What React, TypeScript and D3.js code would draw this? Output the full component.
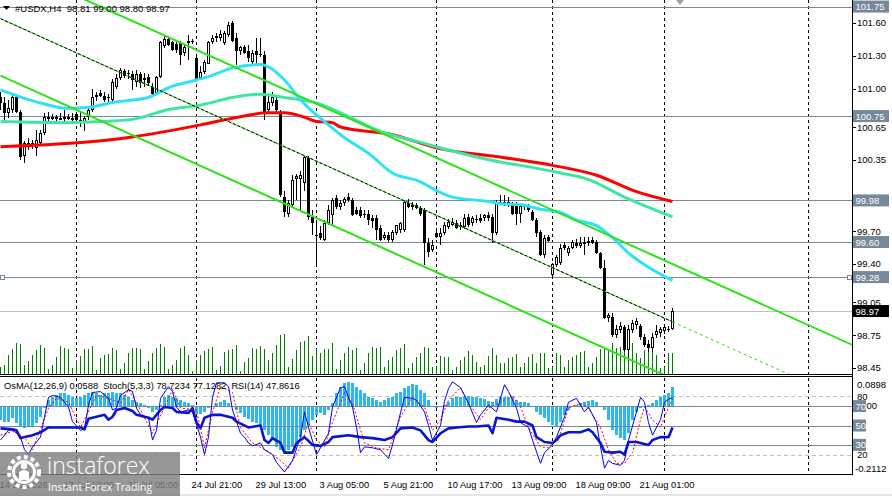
import React, { useEffect, useRef } from 'react';
import * as d3 from 'd3';

const W = 892;
const H = 496;
const PLOT_RIGHT = 852;
const MAIN_BOTTOM = 374;
const OSC_TOP = 377;
const OSC_BOTTOM = 474;
const FONT = "'Liberation Sans', Arial, sans-serif";

// #USDX H4 candles, bar 0 = 14 Jul 2026
const opens = [
  100.92, 100.87, 100.78, 100.81, 100.92, 100.79, 100.39, 100.50, 100.48, 100.46,
  100.50, 100.60, 100.74, 100.72, 100.74, 100.72, 100.73, 100.74, 100.72, 100.77,
  100.71, 100.70, 100.74, 100.81, 100.92, 100.96, 100.93, 100.92, 100.90, 101.02,
  101.10, 101.16, 101.14, 101.13, 101.06, 101.13, 101.10, 101.11, 101.02, 100.96,
  101.11, 101.39, 101.45, 101.43, 101.41, 101.42, 101.33, 101.42, 101.44, 101.28,
  101.10, 101.15, 101.23, 101.43, 101.46, 101.46, 101.42, 101.49, 101.60, 101.46,
  101.34, 101.38, 101.34, 101.24, 101.34, 101.32, 101.31, 100.81, 100.87, 100.90,
  100.78, 100.01, 99.86, 99.94, 100.18, 100.18, 100.14, 100.37, 99.83, 99.66,
  99.68, 99.62, 99.77, 99.85, 100.00, 99.92, 99.96, 100.01, 99.98, 99.89,
  99.89, 99.86, 99.86, 99.82, 99.82, 99.73, 99.64, 99.66, 99.62, 99.68,
  99.71, 99.71, 99.96, 99.94, 99.94, 99.91, 99.89, 99.59, 99.53, 99.68,
  99.65, 99.68, 99.74, 99.76, 99.77, 99.74, 99.74, 99.83, 99.77, 99.81,
  99.82, 99.82, 99.85, 99.83, 99.68, 99.97, 99.96, 99.97, 99.94, 99.93,
  99.86, 99.93, 99.92, 99.87, 99.80, 99.69, 99.48, 99.65, 99.30, 99.39,
  99.41, 99.57, 99.50, 99.55, 99.59, 99.56, 99.59, 99.60, 99.62, 99.60,
  99.50, 99.36, 98.91, 98.92, 98.75, 98.80, 98.82, 98.61, 98.80, 98.84,
  98.83, 98.73, 98.67, 98.63, 98.75, 98.77, 98.79, 98.81, 98.81,
];
const highs = [
  100.97, 100.92, 100.90, 100.94, 100.95, 100.81, 100.52, 100.55, 100.53, 100.62,
  100.62, 100.78, 100.79, 100.77, 100.76, 100.78, 100.81, 100.77, 100.78, 100.79,
  100.79, 100.75, 100.82, 101.00, 100.97, 100.99, 100.97, 100.95, 101.09, 101.13,
  101.19, 101.18, 101.17, 101.16, 101.17, 101.15, 101.14, 101.13, 101.05, 101.12,
  101.44, 101.49, 101.48, 101.44, 101.43, 101.44, 101.41, 101.49, 101.45, 101.29,
  101.21, 101.26, 101.44, 101.49, 101.51, 101.54, 101.53, 101.61, 101.62, 101.51,
  101.39, 101.40, 101.40, 101.35, 101.46, 101.46, 101.34, 100.94, 100.97, 100.93,
  100.81, 100.07, 99.98, 100.21, 100.22, 100.25, 100.39, 100.39, 99.89, 99.80,
  99.75, 99.80, 99.94, 100.00, 100.03, 99.98, 100.01, 100.05, 100.00, 99.92,
  99.92, 99.89, 99.89, 99.85, 99.85, 99.76, 99.69, 99.69, 99.71, 99.76,
  99.78, 99.98, 99.99, 99.97, 99.96, 99.93, 99.91, 99.64, 99.62, 99.71,
  99.73, 99.78, 99.81, 99.82, 99.80, 99.78, 99.86, 99.86, 99.84, 99.85,
  99.86, 99.86, 99.87, 99.86, 99.98, 100.03, 100.03, 100.01, 99.97, 99.97,
  99.94, 99.95, 99.95, 99.89, 99.82, 99.71, 99.66, 99.66, 99.41, 99.48,
  99.58, 99.60, 99.56, 99.62, 99.63, 99.65, 99.65, 99.65, 99.65, 99.62,
  99.51, 99.44, 98.95, 98.95, 98.84, 98.87, 98.84, 98.84, 98.89, 98.91,
  98.85, 98.76, 98.71, 98.77, 98.84, 98.82, 98.84, 98.83, 99.00,
];
const lows = [
  100.81, 100.71, 100.73, 100.78, 100.78, 100.35, 100.32, 100.44, 100.45, 100.39,
  100.49, 100.58, 100.69, 100.71, 100.70, 100.71, 100.68, 100.71, 100.70, 100.70,
  100.65, 100.61, 100.71, 100.79, 100.89, 100.92, 100.88, 100.88, 100.88, 101.00,
  101.08, 101.10, 101.09, 100.99, 101.02, 101.01, 101.02, 101.03, 100.93, 100.94,
  101.10, 101.37, 101.39, 101.34, 101.33, 101.22, 101.30, 101.26, 101.41, 101.08,
  101.08, 101.13, 101.23, 101.41, 101.43, 101.44, 101.40, 101.47, 101.43, 101.22,
  101.31, 101.32, 101.24, 101.21, 101.23, 101.29, 100.71, 100.79, 100.84, 100.79,
  100.01, 99.83, 99.83, 99.91, 99.98, 99.89, 100.07, 99.80, 99.66, 99.37,
  99.62, 99.61, 99.76, 99.76, 99.90, 99.89, 99.93, 99.97, 99.84, 99.85,
  99.82, 99.82, 99.76, 99.73, 99.62, 99.61, 99.62, 99.60, 99.60, 99.66,
  99.68, 99.69, 99.91, 99.89, 99.90, 99.84, 99.39, 99.46, 99.51, 99.64,
  99.57, 99.66, 99.72, 99.75, 99.72, 99.71, 99.72, 99.74, 99.75, 99.77,
  99.77, 99.79, 99.79, 99.59, 99.66, 99.94, 99.93, 99.92, 99.85, 99.76,
  99.77, 99.89, 99.87, 99.79, 99.65, 99.47, 99.45, 99.60, 99.27, 99.37,
  99.39, 99.53, 99.47, 99.54, 99.55, 99.55, 99.48, 99.56, 99.58, 99.49,
  99.35, 98.90, 98.87, 98.73, 98.72, 98.77, 98.60, 98.54, 98.77, 98.81,
  98.71, 98.64, 98.60, 98.60, 98.72, 98.73, 98.76, 98.78, 98.80,
];
const closes = [
  100.87, 100.78, 100.82, 100.92, 100.79, 100.38, 100.50, 100.48, 100.50, 100.53,
  100.60, 100.74, 100.72, 100.74, 100.72, 100.73, 100.74, 100.72, 100.73, 100.71,
  100.70, 100.73, 100.81, 100.92, 100.94, 100.93, 100.90, 100.92, 101.06, 101.10,
  101.17, 101.12, 101.13, 101.08, 101.13, 101.05, 101.08, 101.05, 100.95, 101.11,
  101.43, 101.45, 101.40, 101.35, 101.35, 101.31, 101.38, 101.44, 101.44, 101.08,
  101.15, 101.24, 101.43, 101.46, 101.48, 101.50, 101.51, 101.58, 101.44, 101.34,
  101.38, 101.33, 101.28, 101.33, 101.31, 101.31, 100.79, 100.88, 100.92, 100.81,
  100.03, 99.87, 99.96, 100.17, 100.20, 100.21, 100.38, 99.83, 99.77, 99.66,
  99.64, 99.77, 99.89, 99.98, 99.92, 99.96, 99.99, 99.98, 99.85, 99.86,
  99.84, 99.85, 99.80, 99.79, 99.71, 99.62, 99.66, 99.62, 99.69, 99.76,
  99.77, 99.97, 99.92, 99.92, 99.91, 99.86, 99.59, 99.51, 99.57, 99.65,
  99.68, 99.76, 99.78, 99.78, 99.73, 99.76, 99.82, 99.76, 99.82, 99.80,
  99.79, 99.85, 99.82, 99.68, 99.97, 99.96, 99.97, 99.95, 99.86, 99.86,
  99.93, 99.92, 99.89, 99.80, 99.68, 99.48, 99.64, 99.61, 99.40, 99.46,
  99.55, 99.55, 99.55, 99.60, 99.56, 99.59, 99.60, 99.61, 99.59, 99.50,
  99.36, 98.91, 98.93, 98.75, 98.81, 98.83, 98.61, 98.81, 98.86, 98.88,
  98.73, 98.66, 98.63, 98.73, 98.79, 98.81, 98.82, 98.81, 98.97,
];
const volumes = [
  700, 900, 1900, 2500, 3100, 3000, 900, 1300, 1900, 2400, 2900, 2600, 500, 900, 1700, 2800, 2600, 2500, 600, 1400,
  1800, 2500, 2500, 2800, 400, 1600, 1900, 2000, 2600, 2400, 500, 1100, 2100, 2600, 2600, 2500, 500, 1300, 2100, 2600,
  3000, 2700, 500, 900, 1400, 2600, 2800, 1900, 300, 1400, 1900, 2300, 2500, 2700, 400, 800, 2200, 2400, 2500, 2900,
  300, 1200, 1600, 2600, 2500, 2800, 2500, 1400, 2100, 2900, 3900, 4000, 700, 1500, 2400, 3200, 3300, 3800, 1800, 2500,
  2100, 2500, 2500, 3100, 500, 1400, 2100, 2700, 2400, 2600, 400, 1100, 2100, 2700, 2600, 2700, 700, 1400, 1700, 2400,
  2600, 3000, 600, 1100, 1700, 2100, 2700, 2600, 700, 700, 1800, 1700, 1700, 400, 700, 1400, 1700, 2300, 1900, 1200,
  700, 900, 1800, 2600, 1900, 1100, 1100, 1600, 1700, 2000, 700, 1100, 1700, 2000, 1100, 2100, 2100, 600, 700, 2100,
  1900, 700, 1400, 1700, 1900, 2200, 2300, 700, 1100, 1700, 2500, 2500, 2400, 3100, 2600, 2700, 3200, 3100, 3100, 2100,
  1600, 2400, 3100, 2600, 1900, 600, 700, 2100, 2100,
];

// moving averages read as [bar, price]
const maFast = [
  [0, 100.99], [10, 100.87], [17, 100.82], [22, 100.83], [29, 100.88], [37, 100.92], [42, 101.01], [49, 101.08],
  [52, 101.11], [58, 101.19], [65, 101.22], [67, 101.2], [71, 101.08], [75, 100.9], [79, 100.76], [83, 100.64],
  [85, 100.58], [92, 100.41], [98, 100.23], [105, 100.15], [109, 100.07], [113, 100.01], [122, 99.97], [125, 99.95],
  [130, 99.94], [135, 99.9], [140, 99.87], [144, 99.8], [149, 99.75], [153, 99.64], [157, 99.5], [162, 99.37], [168, 99.25],
];
const maMid = [
  [0, 100.7], [17, 100.69], [25, 100.7], [33, 100.72], [42, 100.81], [50, 100.85], [58, 100.92], [65, 100.95],
  [71, 100.92], [79, 100.87], [85, 100.78], [95, 100.61], [105, 100.51], [112, 100.44], [125, 100.33], [130, 100.3],
  [140, 100.23], [147, 100.17], [156, 100.01], [168, 99.83],
];
const maSlow = [
  [0, 100.47], [33, 100.56], [50, 100.67], [58, 100.73], [67, 100.78], [71, 100.78], [76, 100.74], [79, 100.7],
  [83, 100.69], [85, 100.65], [98, 100.58], [109, 100.46], [126, 100.37], [138, 100.3], [149, 100.21], [159, 100.06],
  [168, 99.97],
];

// trend channel anchors
const channelBars = [0, 213];
const channelUpper = [102.16, 98.66];
const channelMiddle = [101.64, 98.13];
const channelLower = [101.12, 97.61];

const hLevels = [101.75, 100.75, 99.98, 99.6, 99.28];
const bidPrice = 98.97;
const priceTicks = [101.6, 101.3, 101.0, 100.65, 100.35, 99.7, 99.4, 99.05, 98.75, 98.45];

const separatorBars = [19, 49, 79, 109, 138, 166, 202];
const timeBars = [0, 16, 32, 48, 64, 80, 96, 112, 128, 144, 160];
const timeLabels = [
  '14 Jul 2026', '17 Jul 13:00', '22 Jul 05:00', '24 Jul 21:00', '29 Jul 13:00', '3 Aug 05:00',
  '5 Aug 21:00', '10 Aug 17:00', '13 Aug 09:00', '18 Aug 09:00', '21 Aug 01:00',
];

// OsMA(12,26,9)
const osma = [
  -0.043, -0.05, -0.05, -0.037, -0.053, -0.065, -0.068, -0.065, -0.062, -0.053,
  -0.034, -0.006, 0.019, 0.028, 0.034, 0.04, 0.04, 0.034, 0.028, 0.025,
  0.028, 0.034, 0.04, 0.043, 0.04, 0.034, 0.04, 0.04, 0.043, 0.04,
  0.04, 0.034, 0.028, 0.019, 0.012, 0.009, 0.003, -0.006, -0.019, -0.012,
  0.003, 0.028, 0.034, 0.028, 0.025, 0.019, 0.012, 0.009, 0.003, -0.022,
  -0.025, -0.019, -0.006, -0.003, 0.009, 0.012, 0.019, 0.009, -0.003, -0.012,
  -0.022, -0.034, -0.04, -0.05, -0.053, -0.065, -0.074, -0.09, -0.105, -0.127,
  -0.137, -0.143, -0.137, -0.127, -0.112, -0.096, -0.074, -0.059, -0.043, -0.028,
  -0.022, -0.028, -0.012, 0.009, 0.04, 0.059, 0.071, 0.074, 0.071, 0.059,
  0.05, 0.04, 0.028, 0.025, 0.019, 0.012, 0.019, 0.025, 0.028, 0.04,
  0.043, 0.056, 0.062, 0.068, 0.065, 0.05, 0.04, 0.019, 0.0, -0.006,
  -0.003, 0.003, 0.012, 0.024, 0.029, 0.029, 0.029, 0.031, 0.029, 0.027,
  0.024, 0.021, 0.016, 0.013, 0.021, 0.027, 0.029, 0.027, 0.027, 0.019,
  0.013, 0.013, 0.008, -0.002, -0.018, -0.028, -0.038, -0.049, -0.059, -0.066,
  -0.049, -0.028, -0.012, -0.002, 0.003, 0.008, 0.013, 0.016, 0.019, 0.013,
  -0.001, -0.012, -0.043, -0.074, -0.09, -0.1, -0.105, -0.085, -0.043, -0.018,
  -0.007, -0.002, 0.003, 0.008, 0.019, 0.029, 0.034, 0.041, 0.0588,
];

// Stoch(5,3,3) main / signal and RSI(14), [bar, value]
const stochMain = [
  [0, 35], [2, 45], [3, 46], [5, 38], [6, 25], [7, 20], [8, 28], [10, 38], [11, 59], [12, 79], [13, 81], [15, 79],
  [17, 69], [18, 54], [20, 45], [21, 47], [22, 71], [23, 84], [25, 85], [27, 78], [28, 66], [29, 68], [30, 81],
  [32, 87], [33, 85], [34, 68], [35, 61], [37, 58], [38, 35], [39, 45], [40, 78], [42, 90], [43, 85], [44, 69],
  [45, 64], [47, 66], [48, 64], [50, 38], [51, 20], [52, 38], [53, 79], [54, 94], [56, 94], [57, 90], [58, 66],
  [60, 42], [61, 38], [62, 32], [63, 29], [65, 32], [66, 25], [68, 20], [69, 12], [71, 2], [73, 14], [75, 38],
  [76, 64], [77, 48], [79, 20], [80, 27], [82, 42], [83, 69], [85, 89], [86, 90], [87, 79], [88, 69], [89, 48],
  [90, 22], [91, 28], [93, 27], [95, 25], [97, 16], [98, 30], [100, 63], [101, 79], [103, 78], [104, 76], [106, 64],
  [107, 50], [108, 35], [110, 50], [111, 75], [112, 88], [113, 95], [115, 89], [117, 73], [119, 53], [120, 61],
  [122, 71], [124, 64], [126, 92], [127, 85], [129, 68], [130, 53], [132, 48], [133, 35], [135, 11], [136, 22],
  [138, 30], [139, 38], [141, 59], [142, 74], [144, 78], [145, 71], [146, 64], [147, 69], [149, 53], [150, 28],
  [151, 6], [152, 14], [153, 11], [155, 9], [156, 14], [157, 35], [159, 64], [160, 79], [161, 74], [162, 53],
  [163, 40], [165, 56], [166, 74], [167, 77], [168, 78.72],
];
const stochSignal = [
  [0, 40], [3, 44], [6, 38], [8, 25], [12, 68], [14, 78], [17, 74], [20, 48], [24, 81], [27, 78], [30, 73], [32, 87],
  [35, 66], [38, 42], [41, 69], [43, 87], [45, 68], [49, 66], [51, 27], [53, 63], [55, 90], [58, 84], [60, 48],
  [63, 32], [67, 23], [70, 14], [72, 6], [75, 28], [77, 53], [79, 35], [81, 28], [83, 53], [86, 84], [88, 73],
  [91, 32], [94, 27], [97, 25], [100, 59], [103, 79], [106, 69], [108, 45], [110, 56], [112, 76], [115, 89],
  [117, 73], [120, 56], [122, 68], [125, 74], [128, 81], [130, 69], [132, 48], [135, 28], [137, 27], [140, 42],
  [142, 68], [145, 73], [147, 68], [150, 48], [152, 25], [154, 11], [156, 11], [158, 22], [160, 56], [161, 69],
  [163, 56], [165, 48], [167, 69], [168, 77.13],
];
const rsi = [
  [0, 47], [3, 46], [4, 45], [5, 37], [8, 40], [10, 43], [12, 48], [20, 48], [21, 46], [22, 57], [24, 59], [26, 61],
  [27, 56], [28, 59], [29, 66], [31, 68], [33, 65], [34, 61], [37, 58], [38, 56], [40, 66], [41, 69], [43, 68],
  [44, 64], [47, 63], [48, 68], [49, 53], [50, 47], [51, 58], [53, 61], [55, 61], [58, 58], [59, 54], [62, 48],
  [65, 50], [66, 35], [67, 32], [68, 37], [70, 32], [71, 22], [73, 22], [74, 32], [76, 38], [78, 30], [80, 29],
  [82, 33], [83, 38], [87, 40], [90, 38], [93, 37], [96, 35], [98, 38], [100, 47], [103, 48], [105, 45], [107, 35],
  [108, 33], [110, 42], [112, 47], [114, 48], [117, 49], [119, 49], [122, 50], [123, 42], [124, 58], [127, 56],
  [129, 54], [131, 54], [133, 50], [134, 38], [136, 33], [138, 32], [139, 35], [140, 40], [142, 43], [145, 43],
  [147, 46], [148, 43], [150, 32], [151, 23], [153, 22], [155, 23], [156, 20], [157, 33], [159, 33], [162, 30],
  [163, 35], [165, 38], [167, 38], [168, 47.86],
];

export default function App() {
  const svgRef = useRef<SVGSVGElement>(null);

  useEffect(() => {
    if (!svgRef.current) return;
    const svg = d3.select(svgRef.current);
    svg.selectAll('*').remove();

    const x = d3.scaleLinear().domain([0, 213]).range([0.5, 852.5]);
    const y = d3.scaleLinear().domain([98.395, 101.81]).range([MAIN_BOTTOM, 0]);
    const yVol = d3.scaleLinear().domain([0, 4000]).range([MAIN_BOTTOM, MAIN_BOTTOM - 40]);
    const yOsc = d3.scaleLinear().domain([0, 100]).range([OSC_BOTTOM, OSC_TOP]);
    const yOsma = d3.scaleLinear().domain([-0.2112, 0.0898]).range([OSC_BOTTOM, OSC_TOP]);

    svg.append('rect').attr('width', W).attr('height', H).attr('fill', '#fff');

    const defs = svg.append('defs');
    defs.append('clipPath').attr('id', 'mainClip')
      .append('rect').attr('x', 0).attr('y', 0).attr('width', PLOT_RIGHT).attr('height', MAIN_BOTTOM);
    defs.append('clipPath').attr('id', 'oscClip')
      .append('rect').attr('x', 0).attr('y', OSC_TOP).attr('width', PLOT_RIGHT).attr('height', OSC_BOTTOM - OSC_TOP);

    // week separators
    svg.append('g').selectAll('line').data(separatorBars).enter().append('line')
      .attr('x1', d => x(d)).attr('x2', d => x(d))
      .attr('y1', 0).attr('y2', OSC_BOTTOM)
      .attr('stroke', '#000').attr('stroke-dasharray', '3,3').attr('shape-rendering', 'crispEdges');

    const main = svg.append('g').attr('clip-path', 'url(#mainClip)');

    // horizontal levels
    main.selectAll('.hl').data(hLevels).enter().append('line')
      .attr('x1', 0).attr('x2', PLOT_RIGHT)
      .attr('y1', d => Math.round(y(d)) + 0.5).attr('y2', d => Math.round(y(d)) + 0.5)
      .attr('stroke', '#778899');
    main.append('line')
      .attr('x1', 0).attr('x2', PLOT_RIGHT)
      .attr('y1', Math.round(y(bidPrice)) + 0.5).attr('y2', Math.round(y(bidPrice)) + 0.5)
      .attr('stroke', '#c0c0c0');

    // volumes
    main.selectAll('.vol').data(volumes).enter().append('line')
      .attr('x1', (d, i) => x(i)).attr('x2', (d, i) => x(i))
      .attr('y1', MAIN_BOTTOM).attr('y2', d => yVol(d))
      .attr('stroke', '#008000').attr('shape-rendering', 'crispEdges');

    // candles
    const bars = d3.range(closes.length);
    const cg = main.append('g').attr('shape-rendering', 'crispEdges');
    cg.selectAll('.wick').data(bars).enter().append('line')
      .attr('x1', i => x(i)).attr('x2', i => x(i))
      .attr('y1', i => y(highs[i])).attr('y2', i => y(lows[i]))
      .attr('stroke', '#000');
    bars.forEach(i => {
      const o = opens[i];
      const c = closes[i];
      const top = Math.round(y(Math.max(o, c)));
      const bot = Math.round(y(Math.min(o, c)));
      if (bot - top < 1) {
        cg.append('line').attr('x1', x(i) - 1.5).attr('x2', x(i) + 1.5)
          .attr('y1', top + 0.5).attr('y2', top + 0.5).attr('stroke', '#000');
      } else if (c > o) {
        cg.append('rect').attr('x', x(i) - 1).attr('y', top + 0.5)
          .attr('width', 2).attr('height', Math.max(1, bot - top - 1))
          .attr('fill', '#fff').attr('stroke', '#000');
      } else {
        cg.append('rect').attr('x', x(i) - 1.5).attr('y', top)
          .attr('width', 3).attr('height', bot - top).attr('fill', '#000');
      }
    });

    // moving averages
    const maLine = d3.line<number[]>().x(d => x(d[0])).y(d => y(d[1])).curve(d3.curveMonotoneX);
    [[maSlow, '#ff0000'], [maMid, '#3ee6a2'], [maFast, '#2fe2f8']].forEach(([pts, col]) => {
      main.append('path').attr('d', maLine(pts as number[][]))
        .attr('fill', 'none').attr('stroke', col as string).attr('stroke-width', 3);
    });

    // trend channel
    const upper = d3.scaleLinear().domain(channelBars).range(channelUpper);
    const middle = d3.scaleLinear().domain(channelBars).range(channelMiddle);
    const lower = d3.scaleLinear().domain(channelBars).range(channelLower);
    const lastBar = closes.length - 1;
    [upper, lower].forEach(f => {
      main.append('line')
        .attr('x1', x(channelBars[0])).attr('y1', y(f(channelBars[0])))
        .attr('x2', x(channelBars[1])).attr('y2', y(f(channelBars[1])))
        .attr('stroke', '#2ee21a').attr('stroke-width', 2);
    });
    main.append('line')
      .attr('x1', x(0)).attr('y1', y(middle(0))).attr('x2', x(lastBar)).attr('y2', y(middle(lastBar)))
      .attr('stroke', '#2ee21a').attr('stroke-width', 1);
    main.append('line')
      .attr('x1', x(0)).attr('y1', y(middle(0))).attr('x2', x(lastBar)).attr('y2', y(middle(lastBar)))
      .attr('stroke', '#000').attr('stroke-width', 1).attr('stroke-dasharray', '3,2');
    main.append('line')
      .attr('x1', x(lastBar)).attr('y1', y(middle(lastBar))).attr('x2', x(channelBars[1])).attr('y2', y(middle(channelBars[1])))
      .attr('stroke', '#2ee21a').attr('stroke-width', 1).attr('stroke-dasharray', '3,3');

    // anchor squares of the selected level
    const selY = Math.round(y(99.28)) + 0.5;
    [2.5, 849.5].forEach(cx => {
      svg.append('rect').attr('x', cx - 2).attr('y', selY - 2).attr('width', 4).attr('height', 4)
        .attr('fill', '#fff').attr('stroke', '#778899');
    });

    // chart shift marker
    svg.append('path').attr('d', 'M676,0 L684,0 L680,5 Z').attr('fill', '#a0a0a0');

    // header
    svg.append('path').attr('d', 'M3,6 L10,6 L6.5,10 Z').attr('fill', '#000');
    svg.append('text').attr('x', 15).attr('y', 12).attr('font-family', FONT).attr('font-size', 9.5)
      .attr('fill', '#000').attr('xml:space', 'preserve')
      .text('#USDX,H4  98.81 99.00 98.80 98.97');

    // oscillator window
    const osc = svg.append('g').attr('clip-path', 'url(#oscClip)');
    osc.selectAll('.dl').data([80, 20]).enter().append('line')
      .attr('x1', 0).attr('x2', PLOT_RIGHT)
      .attr('y1', d => Math.round(yOsc(d)) + 0.5).attr('y2', d => Math.round(yOsc(d)) + 0.5)
      .attr('stroke', '#c0c0c0').attr('stroke-dasharray', '4,3');
    osc.selectAll('.hist').data(osma).enter().append('rect')
      .attr('x', (d, i) => x(i) - 1.5).attr('width', 3)
      .attr('y', d => Math.min(yOsma(d), yOsma(0)))
      .attr('height', d => Math.abs(yOsma(d) - yOsma(0)))
      .attr('fill', '#2bb8f0').attr('shape-rendering', 'crispEdges');
    osc.selectAll('.sl').data([70, 50, 30]).enter().append('line')
      .attr('x1', 0).attr('x2', PLOT_RIGHT)
      .attr('y1', d => Math.round(yOsc(d)) + 0.5).attr('y2', d => Math.round(yOsc(d)) + 0.5)
      .attr('stroke', '#778899');
    const oscLine = d3.line<number[]>().x(d => x(d[0])).y(d => yOsc(d[1]));
    osc.append('path').attr('d', oscLine(rsi)).attr('fill', 'none')
      .attr('stroke', '#0a14d2').attr('stroke-width', 2.6).attr('stroke-linejoin', 'round');
    osc.append('path').attr('d', oscLine(stochSignal)).attr('fill', 'none')
      .attr('stroke', '#ff0000').attr('stroke-width', 1).attr('stroke-dasharray', '2,2');
    osc.append('path').attr('d', oscLine(stochMain)).attr('fill', 'none')
      .attr('stroke', '#0000ff').attr('stroke-width', 1);
    svg.append('text').attr('x', 4).attr('y', 389).attr('font-family', FONT).attr('font-size', 9.3)
      .attr('fill', '#000').attr('xml:space', 'preserve')
      .text('OsMA(12,26,9) 0.0588  Stoch(5,3,3) 78.7234 77.1282  RSI(14) 47.8616');

    // frames
    const frame = svg.append('g').attr('stroke', '#000').attr('shape-rendering', 'crispEdges');
    frame.append('line').attr('x1', PLOT_RIGHT + 0.5).attr('x2', PLOT_RIGHT + 0.5).attr('y1', 0).attr('y2', OSC_BOTTOM + 1);
    frame.append('line').attr('x1', 0).attr('x2', PLOT_RIGHT).attr('y1', MAIN_BOTTOM + 0.5).attr('y2', MAIN_BOTTOM + 0.5);
    frame.append('line').attr('x1', 0).attr('x2', PLOT_RIGHT).attr('y1', OSC_TOP - 0.5).attr('y2', OSC_TOP - 0.5);
    frame.append('line').attr('x1', 0).attr('x2', PLOT_RIGHT).attr('y1', OSC_BOTTOM + 0.5).attr('y2', OSC_BOTTOM + 0.5);

    // price axis
    const axis = svg.append('g').attr('font-family', FONT).attr('font-size', 9.5);
    priceTicks.forEach(p => {
      axis.append('line').attr('x1', PLOT_RIGHT).attr('x2', PLOT_RIGHT + 4)
        .attr('y1', Math.round(y(p)) + 0.5).attr('y2', Math.round(y(p)) + 0.5)
        .attr('stroke', '#000');
      axis.append('text').attr('x', 857).attr('y', y(p) + 3.5).attr('fill', '#000').text(p.toFixed(2));
    });
    const boxLabel = (yy: number, bg: string, w: number, txt: string) => {
      axis.append('rect').attr('x', 853).attr('y', yy - 6).attr('width', w).attr('height', 12).attr('fill', bg);
      axis.append('text').attr('x', 855.5).attr('y', yy + 3.5).attr('fill', '#fff').text(txt);
    };
    hLevels.forEach(p => boxLabel(y(p), '#778899', 36, p.toFixed(2)));
    boxLabel(y(bidPrice), '#000', 36, bidPrice.toFixed(2));

    // oscillator axis
    axis.append('text').attr('x', 857).attr('y', 388).attr('fill', '#000').text('0.0898');
    axis.append('text').attr('x', 857).attr('y', yOsc(80) + 3.5).attr('fill', '#000').text('80');
    // OsMA zero label, its "0." half hidden behind the 70 box
    axis.append('text').attr('x', 866.5).attr('y', yOsma(0) + 3.5).attr('fill', '#000').text('00');
    [70, 50, 30].forEach(l => boxLabel(yOsc(l), '#778899', 13, String(l)));
    axis.append('text').attr('x', 857).attr('y', yOsc(20) + 3.5).attr('fill', '#000').text('20');
    axis.append('text').attr('x', 855).attr('y', 471.5).attr('fill', '#000').text('-0.2112');

    // time axis
    svg.append('g').selectAll('text').data(timeBars).enter().append('text')
      .attr('x', d => x(d) - 1).attr('y', 487.5)
      .attr('font-family', FONT).attr('font-size', 9.3).attr('fill', '#000')
      .text((d, i) => timeLabels[i]);

    svg.append('rect').attr('x', 0).attr('y', 494).attr('width', W).attr('height', 2).attr('fill', '#e6e6e6');

    // watermark
    const logo = svg.append('g');
    logo.append('rect').attr('x', 0).attr('y', 452).attr('width', 180).attr('height', 44)
      .attr('fill', '#808080').attr('opacity', 0.82);
    logo.append('circle').attr('cx', 24).attr('cy', 472).attr('r', 15)
      .attr('fill', 'none').attr('stroke', '#fff').attr('stroke-width', 4).attr('stroke-dasharray', '4,3');
    logo.append('circle').attr('cx', 24).attr('cy', 472).attr('r', 10.5)
      .attr('fill', 'none').attr('stroke', '#fff').attr('stroke-width', 3);
    logo.append('circle').attr('cx', 24).attr('cy', 466).attr('r', 3.2).attr('fill', '#fff');
    logo.append('path').attr('d', 'M19,480 L19,472 Q24,468 29,472 L29,480 Z').attr('fill', '#fff');
    logo.append('text').attr('x', 47).attr('y', 474).attr('font-family', "'Open Sans', 'Noto Sans', sans-serif")
      .attr('font-size', 23).attr('font-weight', 300).attr('fill', '#fff').text('instaforex');
    logo.append('text').attr('x', 48).attr('y', 491).attr('font-family', "'Open Sans', 'Noto Sans', sans-serif")
      .attr('font-size', 10.5).attr('fill', '#fff').text('Instant Forex Trading');
  }, []);

  return (
    <div style={{ position: 'absolute', left: 0, top: 0 }}>
      <svg ref={svgRef} width={W} height={H} style={{ display: 'block' }} />
    </div>
  );
}
